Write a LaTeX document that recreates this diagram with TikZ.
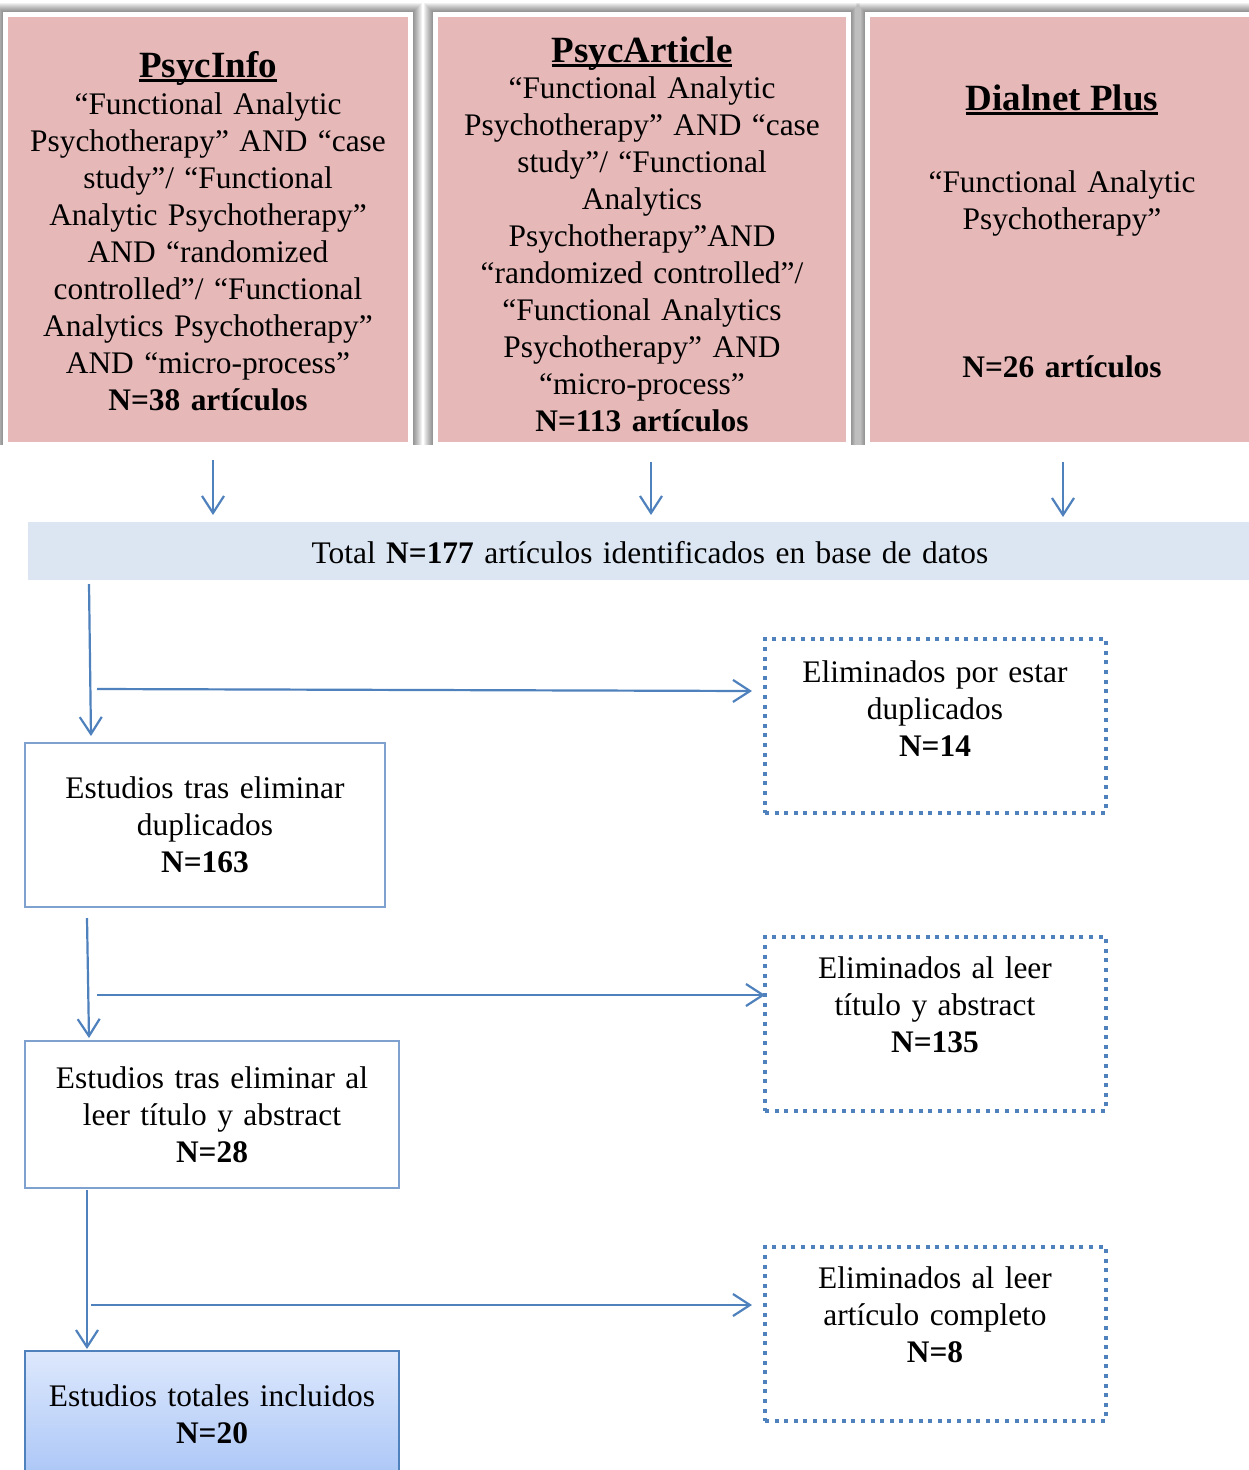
\documentclass[tikz,border=0pt]{standalone}
\usepackage{fontspec}
\setmainfont{Liberation Serif}
\usetikzlibrary{arrows.meta}
\definecolor{pinkfill}{HTML}{E6B9B8}
\definecolor{bandfill}{HTML}{DCE6F2}
\definecolor{accblue}{HTML}{4F81BD}
\definecolor{thinblue}{HTML}{7FA1CF}
\definecolor{gradtop}{HTML}{DDE8FC}
\definecolor{gradbot}{HTML}{A2C0F6}
\newcommand\myul[1]{\setbox0\hbox{#1}\rlap{\copy0}\rule[-5pt]{\wd0}{3pt}}
\newcommand\softshadow[4]{%
  \foreach \d in {1,...,9}{\fill[black,opacity=0.055] (#1-\d,#2-\d) rectangle (#3+\d,#4-2);}%
  \fill[white] (#1,#2) rectangle (#3,#4);}
\tikzset{
  pinkbox/.style={rectangle,fill=pinkfill,inner sep=0},
  txt/.style={font=\fontsize{31.4}{37}\selectfont,align=center,inner sep=0,anchor=base},
  ttl/.style={font=\fontsize{37}{42}\selectfont\bfseries,inner sep=0,anchor=base},
  band/.style={rectangle,fill=bandfill,inner sep=0},
  plainbox/.style={rectangle,draw=thinblue,line width=1.5pt,fill=white,inner sep=0},
  dotbox/.style={rectangle,draw=accblue,line width=4pt,dash pattern=on 4pt off 5.6pt,inner sep=0},
  arr/.style={draw=accblue,line width=2.2pt,-{Straight Barb[length=17pt,width=22pt]}},
}
\begin{document}
\begin{tikzpicture}[x=1pt,y=-1pt]
\useasboundingbox (0,0) rectangle (1249,1470);
\clip (0,0) rectangle (1249,1470);
\fill[white] (0,0) rectangle (1249,1470);

% top boxes with soft shadows
\softshadow{3}{12}{413}{447}
\softshadow{433}{12}{851}{447}
\softshadow{865}{12}{1259}{447}
\node[pinkbox,minimum width=400,minimum height=425] (psycinfo) at (208,229.5) {};
\node[pinkbox,minimum width=408,minimum height=425] (psycarticle) at (642,229.5) {};
\node[pinkbox,minimum width=384,minimum height=425] (dialnet) at (1062,229.5) {};

\node[ttl] (psycinfo-h) at (208,77) {\myul{PsycInfo}};
\node[txt,text width=395] (psycinfo-t) at (208,114) {“Functional Analytic\\Psychotherapy” AND “case\\study”/ “Functional\\Analytic Psychotherapy”\\AND “randomized\\controlled”/ “Functional\\Analytics Psychotherapy”\\AND “micro-process”\\\textbf{N=38 artículos}};

\node[ttl] (psycarticle-h) at (642,62) {\myul{PsycArticle}};
\node[txt,text width=400] (psycarticle-t) at (642,98) {“Functional Analytic\\Psychotherapy” AND “case\\study”/ “Functional\\Analytics\\Psychotherapy”AND\\“randomized controlled”/\\“Functional Analytics\\Psychotherapy” AND\\“micro-process”\\\textbf{N=113 artículos}};

\node[ttl] (dialnet-h) at (1062,110) {\myul{Dialnet Plus}};
\node[txt,text width=370] (dialnet-t) at (1062,192) {“Functional Analytic\\Psychotherapy”};
\node[txt,text width=370] (dialnet-n) at (1062,377) {\textbf{N=26 artículos}};

% total band
\node[band,minimum width=1231,minimum height=58] (total) at (643.5,551) {};
\node[txt,text width=1100] (total-t) at (650,563) {Total \textbf{N=177} artículos identificados en base de datos};

\coordinate (a1s) at (213,460); \coordinate (a1e) at (213,515);
\coordinate (a2s) at (651,462); \coordinate (a2e) at (651,515);
\coordinate (a3s) at (1063,462); \coordinate (a3e) at (1063,517);
\draw[arr] (a1s) -- (a1e);
\draw[arr] (a2s) -- (a2e);
\draw[arr] (a3s) -- (a3e);

% left column boxes
\node[plainbox,minimum width=360,minimum height=164] (dup) at (205,825) {};
\node[txt,text width=350] (dup-t) at (205,798) {Estudios tras eliminar\\duplicados\\\textbf{N=163}};

\node[plainbox,minimum width=374,minimum height=147] (tit) at (212,1114.5) {};
\node[txt,text width=365] (tit-t) at (212,1088) {Estudios tras eliminar al\\leer título y abstract\\\textbf{N=28}};

\node[rectangle,draw=accblue,line width=1.5pt,top color=gradtop,bottom color=gradbot,inner sep=0,minimum width=374,minimum height=150] (inc) at (212,1426) {};
\node[txt,text width=365] (inc-t) at (212,1406) {Estudios totales incluidos\\\textbf{N=20}};

% dotted boxes
\node[dotbox,minimum width=341,minimum height=174] (ex1) at (935.5,726) {};
\node[txt,text width=330] (ex1-t) at (935,682) {Eliminados por estar\\duplicados\\\textbf{N=14}};
\node[dotbox,minimum width=341,minimum height=174] (ex2) at (935.5,1024) {};
\node[txt,text width=330] (ex2-t) at (935,978) {Eliminados al leer\\título y abstract\\\textbf{N=135}};
\node[dotbox,minimum width=341,minimum height=174] (ex3) at (935.5,1334) {};
\node[txt,text width=330] (ex3-t) at (935,1288) {Eliminados al leer\\artículo completo\\\textbf{N=8}};

% flow connectors
\coordinate (v1s) at (89,584); \coordinate (v1e) at (91,736);
\coordinate (h1s) at (97,689); \coordinate (h1e) at (752,691);
\coordinate (v2s) at (87,918); \coordinate (v2e) at (89,1038);
\coordinate (h2s) at (97,995); \coordinate (h2e) at (765,995);
\coordinate (v3s) at (87,1190); \coordinate (v3e) at (87,1349);
\coordinate (h3s) at (91,1305); \coordinate (h3e) at (752,1305);
\draw[arr] (v1s) -- (v1e);
\draw[arr] (h1s) -- (h1e);
\draw[arr] (v2s) -- (v2e);
\draw[arr] (h2s) -- (h2e);
\draw[arr] (v3s) -- (v3e);
\draw[arr] (h3s) -- (h3e);
\end{tikzpicture}
\end{document}
